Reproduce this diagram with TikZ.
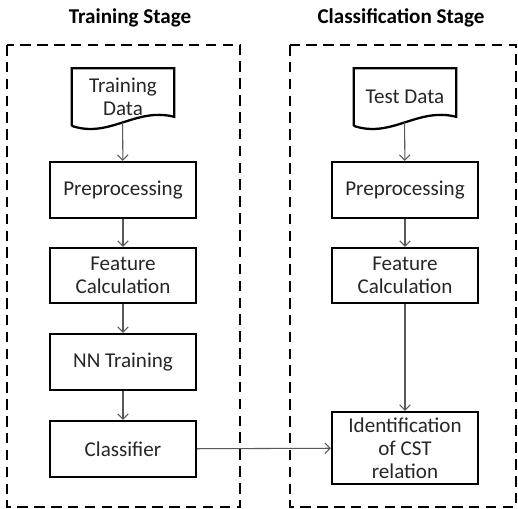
\documentclass[tikz,border=0pt]{standalone}
\usepackage{fontspec}
\setmainfont{Carlito}
\usetikzlibrary{arrows.meta}

\tikzset{
  stagebox/.style={draw=black, line width=1.5pt, dash pattern=on 6pt off 3.6pt},
  stagetitle/.style={font=\fontsize{12}{13}\selectfont\bfseries},
  procbox/.style={draw=black, line width=1.3pt, minimum width=2.92cm, minimum height=1.12cm,
    align=center, text=black!85, font=\fontsize{12}{13}\selectfont},
  databox/.style={minimum width=2.04cm, minimum height=1.14cm, inner sep=0pt,
    align=center, text=black!85, font=\fontsize{12}{13}\selectfont},
  flow/.style={draw=black!65, line width=0.6pt, -{Straight Barb[length=3pt,width=6pt]}},
}

\begin{document}
\begin{tikzpicture}[x=0.02cm, y=-0.02cm]
  \useasboundingbox (0,0) rectangle (518,509);

  % stages
  \draw [stagebox] (7,45) rectangle (240,507);
  \draw [stagebox] (290,45) rectangle (516,507);
  \node [stagetitle] (traintitle) at (130,18) {Training Stage};
  \node [stagetitle] (classtitle) at (401,18) {Classification Stage};

  % training stage
  \node [databox] (traindata) at (123,97) {Training\\Data};
  \draw [line width=1.3pt] (traindata.south west) -- (traindata.north west) -- (traindata.north east)
    -- ([yshift=0.18cm]traindata.south east)
    .. controls +(-39,-10) and +(38,13) .. coordinate[pos=0.5] (traindata-w) (traindata.south west);
  \node [procbox] (prep1) at (123,190) {Preprocessing};
  \node [procbox, minimum height=1.1cm] (feat1) at (123,275.5) {Feature\\Calculation};
  \node [procbox] (nntrain) at (123,362) {NN Training};
  \node [procbox] (classifier) at (123,449) {Classifier};

  % classification stage
  \node [databox] (testdata) at (405,97) {Test Data};
  \draw [line width=1.3pt] (testdata.south west) -- (testdata.north west) -- (testdata.north east)
    -- ([yshift=0.18cm]testdata.south east)
    .. controls +(-39,-10) and +(38,13) .. coordinate[pos=0.5] (testdata-w) (testdata.south west);
  \node [procbox] (prep2) at (405,190) {Preprocessing};
  \node [procbox, minimum height=1.1cm] (feat2) at (405,275.5) {Feature\\Calculation};
  \node [procbox, minimum height=1.36cm] (identify) at (405,448) {Identification\\of CST\\relation};

  \draw [flow] (traindata-w) -- (prep1);
  \draw [flow] (prep1) -- (feat1);
  \draw [flow] (feat1) -- (nntrain);
  \draw [flow] (nntrain) -- (classifier);
  \draw [flow] (testdata-w) -- (prep2);
  \draw [flow] (prep2) -- (feat2);
  \draw [flow] (feat2) -- (identify);
  \draw [flow] (classifier) -- (identify);
\end{tikzpicture}
\end{document}
